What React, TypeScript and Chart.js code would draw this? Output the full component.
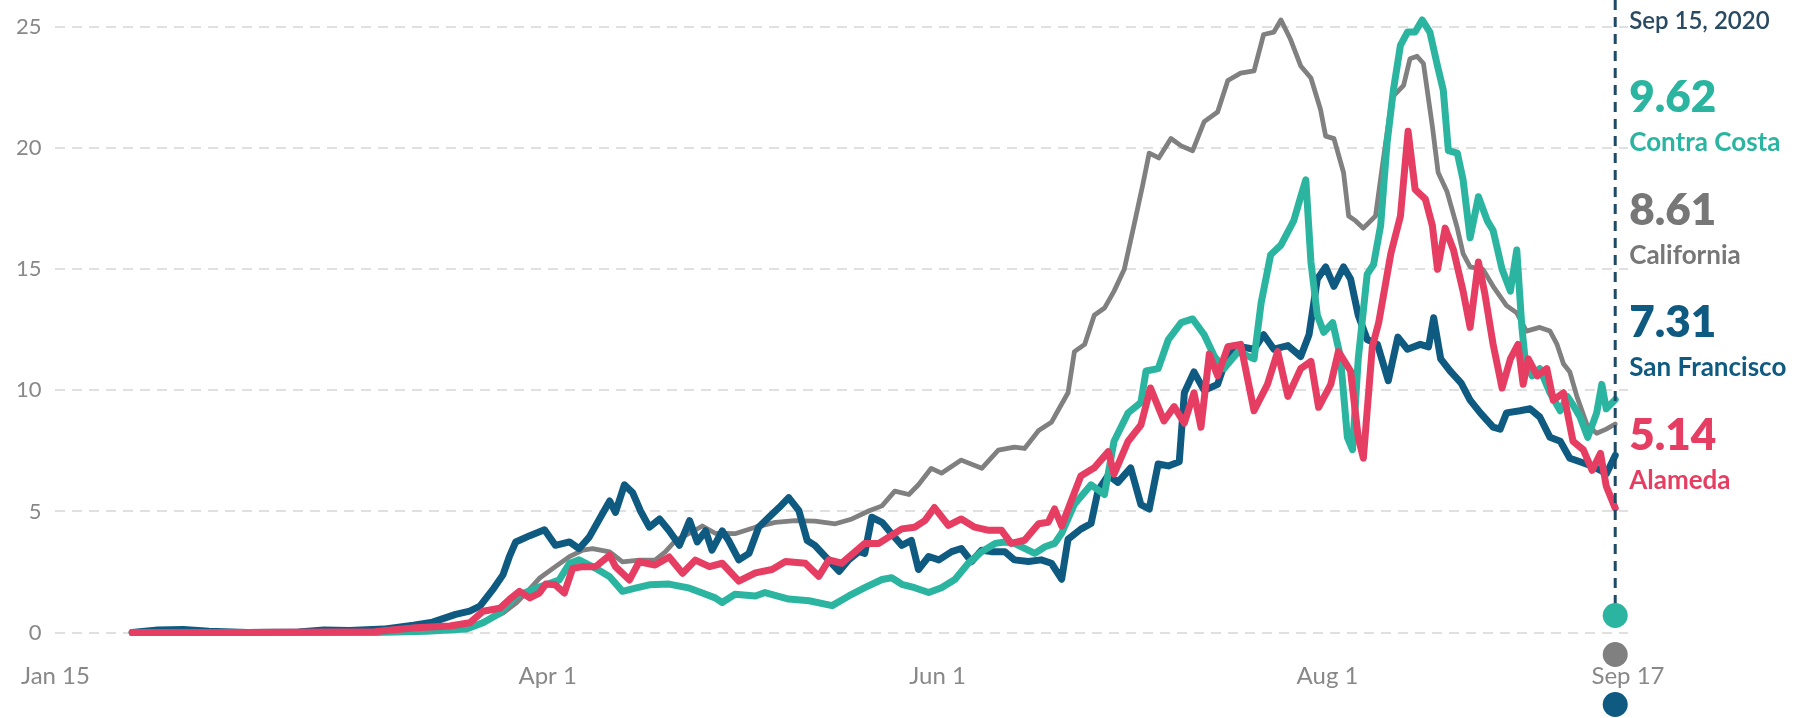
import React, { useEffect, useRef } from "react";
import { Chart, registerables } from "chart.js";

Chart.register(...registerables);

// x values are days since Jan 15, 2020
const tickDays = [0, 77, 138, 199, 246];
const tickLabels = ["Jan 15", "Apr 1", "Jun 1", "Aug 1", "Sep 17"];
const yTickValues = [0, 5, 10, 15, 20, 25];
const highlightDay = 244;
const highlightLabel = "Sep 15, 2020";

const seriesNames = ["Alameda", "Contra Costa", "San Francisco", "California"];
const seriesColors = ["#e63e62", "#2bb5a0", "#0e5a80", "#808080"];
const seriesWidths = [7, 7, 7, 4.8];

const alameda: [number, number][] = [
  [12, 0], [30, 0], [50, 0.03], [51.3, 0.07], [56.4, 0.2], [61.7, 0.27], [64.8, 0.4], [66.9, 0.88], [69.5, 1.0],
  [71, 1.36], [72.6, 1.7], [74.2, 1.43], [75.7, 1.63], [76.7, 2.0], [78.2, 1.97], [79.6, 1.63], [80.9, 2.65],
  [82.5, 2.72], [84.5, 2.72], [86.7, 3.19], [87.6, 2.72], [89.8, 2.17], [91.3, 2.92], [93.8, 2.79], [96, 3.12],
  [98.1, 2.45], [100.1, 2.99], [102.3, 2.72], [104.3, 2.86], [106.9, 2.12], [109.5, 2.46], [112.1, 2.6],
  [114.2, 2.93], [117.3, 2.86], [119.4, 2.32], [121, 3.0], [123, 2.86], [125.1, 3.34], [126.6, 3.68],
  [128.8, 3.68], [130.4, 3.95], [132.4, 4.28], [134.4, 4.35], [136, 4.62], [137.5, 5.16], [139.7, 4.42],
  [141.7, 4.69], [143.8, 4.35], [146, 4.22], [148, 4.22], [149.5, 3.68], [151.6, 3.81], [153.8, 4.49],
  [155.3, 4.55], [156.3, 5.1], [157.4, 4.4], [159, 5.5], [160.4, 6.46], [162.5, 6.8], [164.7, 7.47],
  [165.6, 6.54], [167.8, 7.9], [169.8, 8.57], [171.3, 10.1], [173.4, 8.74], [175, 9.33], [176.6, 8.65],
  [178.1, 9.9], [179.2, 8.48], [180.5, 11.5], [181.8, 10.6], [183.4, 11.8], [185.4, 11.9], [187.5, 9.16],
  [189.6, 10.25], [191.2, 11.6], [192.8, 9.75], [194.8, 10.9], [196.4, 11.2], [197.6, 9.3], [199.5, 10.25],
  [200.7, 11.6], [202.6, 10.8], [203.8, 8.06], [204.6, 7.2], [206, 11.8], [207, 12.8], [208.9, 15.65],
  [210.4, 17.2], [211.6, 20.7], [212.7, 18.3], [214.3, 17.9], [215.4, 16.8], [216.2, 15.0], [217.4, 16.7],
  [218.7, 15.8], [220.2, 14.1], [221.3, 12.6], [222.6, 15.3], [223.6, 14.0], [224.9, 11.9], [226.3, 10.1],
  [227.6, 11.3], [228.8, 11.9], [229.6, 10.25], [230.4, 11.3], [231.8, 10.6], [233.3, 10.9], [234.3, 9.6],
  [235.9, 9.9], [237.4, 7.9], [239, 7.55], [240.4, 6.7], [241.7, 7.4], [242.6, 6.04], [244, 5.14],
];

const contraCosta: [number, number][] = [
  [12, 0], [30, 0], [50, 0], [58, 0.05], [64.2, 0.14], [66.9, 0.4], [69.5, 0.8], [72, 1.5], [74.6, 1.77],
  [78.8, 2.17], [80.4, 2.85], [81.9, 3.0], [84.5, 2.65], [86.7, 2.3], [88.7, 1.7], [90.7, 1.83], [92.9, 1.97],
  [96, 2.0], [99.2, 1.83], [101.2, 1.63], [103.2, 1.43], [104.3, 1.24], [106.3, 1.58], [109.5, 1.51],
  [111, 1.65], [114.7, 1.38], [117.9, 1.31], [121.5, 1.11], [124.1, 1.51], [126.6, 1.85], [129.3, 2.19],
  [130.8, 2.26], [132.4, 1.99], [134.4, 1.85], [136.6, 1.65], [138.6, 1.85], [140.7, 2.19], [142.8, 2.86],
  [144.9, 3.34], [147, 3.68], [148.5, 3.74], [150, 3.68], [151.6, 3.47], [153.2, 3.27], [154.8, 3.54],
  [156.3, 3.68], [157.4, 4.1], [159.4, 5.3], [162, 6.1], [164.1, 5.7], [165.6, 7.9], [167.8, 9.07],
  [169.8, 9.5], [170.6, 10.8], [172.5, 10.9], [174.1, 12.1], [176.1, 12.8], [177.9, 12.95], [179.7, 12.3],
  [181.3, 11.4], [182.8, 10.9], [185, 11.6], [187.5, 11.3], [188.6, 13.6], [190.1, 15.6], [191.7, 16.0],
  [193.7, 17.0], [194.8, 18.0], [195.6, 18.7], [196.4, 15.3], [197.4, 13.1], [198.4, 12.4], [199.8, 12.8],
  [201, 11.4], [202.1, 8.06], [202.9, 7.55], [203.8, 11.3], [205.2, 14.8], [206.2, 15.2], [207.3, 16.8],
  [208.3, 20.2], [209.3, 22.4], [210.4, 24.25], [211.5, 24.8], [212.7, 24.8], [213.8, 25.3], [215, 24.8],
  [216.2, 23.4], [217.1, 22.4], [217.9, 19.9], [219.3, 19.8], [220.2, 18.7], [221.3, 16.3], [222.6, 18.0],
  [224, 17.0], [224.9, 16.6], [226.3, 15.0], [227.6, 14.1], [228.6, 15.8], [229.4, 12.6], [229.9, 11.3],
  [231, 10.6], [232.2, 10.9], [233.8, 9.9], [235.4, 9.16], [236.5, 9.75], [237.4, 9.4], [238.5, 8.9],
  [239.7, 8.06], [241.1, 9.07], [241.9, 10.25], [242.6, 9.24], [244, 9.62],
];

const sanFrancisco: [number, number][] = [
  [12, 0], [16, 0.1], [20, 0.12], [24, 0.05], [30, 0], [38, 0.02], [42, 0.1], [46, 0.08], [51.3, 0.14],
  [56, 0.3], [59, 0.43], [62.6, 0.75], [64.8, 0.88], [66.4, 1.09], [68.4, 1.77], [70, 2.38], [71, 3.13],
  [72, 3.74], [74.2, 4.0], [76.5, 4.24], [78.2, 3.6], [80.4, 3.74], [81.9, 3.46], [83.5, 3.94], [85.1, 4.69],
  [86.7, 5.43], [87.6, 4.96], [89, 6.1], [90.3, 5.77], [91.5, 5.03], [92.9, 4.35], [94.5, 4.69], [96, 4.2],
  [97.6, 3.6], [99.2, 4.62], [100.4, 3.74], [101.7, 4.2], [102.7, 3.4], [104.3, 4.2], [105.3, 3.8],
  [106.9, 3.0], [108.5, 3.27], [110, 4.35], [111.6, 4.76], [113.2, 5.16], [114.7, 5.57], [116.3, 5.03],
  [117.6, 3.8], [118.8, 3.6], [120.4, 3.14], [122.6, 2.53], [124.1, 3.0], [125.7, 3.34], [126.6, 3.27],
  [127.7, 4.76], [129.3, 4.55], [130.8, 4.08], [132.4, 3.6], [133.9, 3.8], [135, 2.6], [136.6, 3.14],
  [138.2, 3.0], [140.2, 3.34], [141.7, 3.47], [143.3, 2.93], [144.9, 3.4], [146.4, 3.34], [148.5, 3.34],
  [150, 3.0], [152.2, 2.93], [154.2, 3.0], [155.8, 2.86], [157.4, 2.2], [158.4, 3.85], [160.4, 4.27],
  [162, 4.5], [163.1, 5.87], [164.7, 6.5], [166.2, 6.2], [168.2, 6.8], [169.8, 5.28], [171.1, 5.1],
  [172.5, 6.96], [174.1, 6.88], [175.8, 7.05], [176.6, 9.9], [178.1, 10.76], [179.7, 10.0], [181.8, 10.25],
  [183.4, 11.5], [185.4, 11.8], [187.5, 11.7], [189, 12.3], [190.6, 11.7], [192.8, 11.85], [194.8, 11.4],
  [196.1, 12.3], [197.4, 14.6], [198.7, 15.1], [200, 14.3], [201.5, 15.1], [202.6, 14.6], [203.8, 13.1],
  [205.2, 12.1], [206.8, 11.9], [208.5, 10.4], [210, 12.2], [211.5, 11.7], [213.5, 11.9], [214.8, 11.8],
  [215.6, 13.0], [216.7, 11.3], [218.3, 10.76], [219.9, 10.3], [221.3, 9.6], [222.9, 9.07], [224.9, 8.48],
  [226, 8.4], [227, 9.07], [229.1, 9.16], [230.7, 9.24], [232.2, 8.9], [233.8, 8.06], [235.4, 7.9],
  [236.9, 7.2], [238.5, 7.05], [240.1, 6.9], [241.7, 6.7], [242.6, 6.55], [244, 7.31],
];

const california: [number, number][] = [
  [12, 0], [20, 0.03], [30, 0.03], [40, 0.04], [48, 0.08], [52, 0.15], [60, 0.2], [66, 0.35], [70, 0.8],
  [72, 1.2], [73.6, 1.63], [75.7, 2.24], [78.2, 2.72], [80.4, 3.13], [82.5, 3.4], [84, 3.46], [86.7, 3.33],
  [88.7, 2.92], [91.3, 2.99], [93.8, 2.99], [95.4, 3.33], [97, 3.8], [99.2, 4.1], [101.2, 4.4], [103.2, 4.1],
  [106.3, 4.08], [109.5, 4.35], [112.6, 4.55], [115.7, 4.62], [118.8, 4.6], [122, 4.49], [124.6, 4.69],
  [127.3, 5.03], [129.3, 5.23], [131.3, 5.84], [133.5, 5.7], [135, 6.1], [137, 6.78], [138.6, 6.58],
  [141.7, 7.12], [144.9, 6.78], [147.5, 7.53], [150, 7.66], [151.6, 7.6], [153.8, 8.34], [155.8, 8.68],
  [156.9, 9.2], [158.4, 9.9], [159.4, 11.6], [161, 11.9], [162.5, 13.1], [164.1, 13.4], [165.6, 14.1],
  [167.2, 15.0], [168.7, 16.8], [170.1, 18.5], [171.1, 19.8], [172.6, 19.6], [174.5, 20.4], [176.1, 20.1],
  [177.9, 19.9], [179.7, 21.1], [181.8, 21.5], [183.4, 22.8], [185.4, 23.1], [187.5, 23.2], [189, 24.7],
  [190.6, 24.8], [191.7, 25.3], [193.2, 24.5], [194.8, 23.4], [196.4, 22.9], [197.9, 21.6], [198.7, 20.5],
  [200, 20.4], [201.5, 19.0], [202.3, 17.2], [203.4, 17.0], [204.6, 16.7], [206.5, 17.2], [207.7, 19.5],
  [209.1, 22.1], [210.9, 22.6], [211.9, 23.7], [213, 23.8], [214, 23.5], [215.4, 20.9], [216.3, 19.0],
  [217.7, 18.2], [219.3, 16.7], [220.2, 15.65], [221.3, 15.1], [223.3, 15.0], [224.9, 14.3], [227, 13.5],
  [228.6, 13.2], [230.1, 12.45], [232.2, 12.6], [233.8, 12.45], [234.9, 11.9], [235.9, 11.1], [236.9, 10.76],
  [238, 9.75], [239.6, 8.57], [241.1, 8.23], [242.6, 8.4], [244, 8.61],
];

const seriesData = [alameda, contraCosta, sanFrancisco, california];
const markerOffsets = [-17, 22, 72];

const FONT = "Lato, 'Noto Sans', sans-serif";

const overlayPlugin = {
  id: "overlay",
  afterDraw(chart: any) {
    const { ctx, chartArea } = chart;
    const xs = chart.scales.x;
    const x = xs.getPixelForValue(highlightDay);
    const order = seriesData
      .map((d, i) => ({ i, last: d[d.length - 1][1] }))
      .sort((a, b) => b.last - a.last);

    ctx.save();
    // vertical dashed rule
    ctx.setLineDash([10, 7]);
    ctx.lineWidth = 3;
    ctx.strokeStyle = "#1f4a66";
    ctx.beginPath();
    ctx.moveTo(x, 0);
    ctx.lineTo(x, chartArea.bottom + markerOffsets[0] - 10);
    ctx.stroke();
    ctx.setLineDash([]);

    // markers
    order.slice(0, markerOffsets.length).forEach((o, k) => {
      ctx.beginPath();
      ctx.fillStyle = seriesColors[o.i];
      ctx.arc(x, chartArea.bottom + markerOffsets[k], 12.5, 0, Math.PI * 2);
      ctx.fill();
    });

    // labels
    const lx = x + 14;
    ctx.textAlign = "left";
    ctx.textBaseline = "middle";
    ctx.fillStyle = "#2a4a63";
    ctx.font = `600 24px ${FONT}`;
    ctx.fillText(highlightLabel, lx, 21);
    order.forEach((o, k) => {
      const vy = 98 + k * 112.5;
      const color = o.i === 3 ? "#777777" : seriesColors[o.i];
      ctx.fillStyle = color;
      ctx.font = `800 44px ${FONT}`;
      ctx.fillText(o.last.toFixed(2), lx, vy);
      ctx.font = `700 26px ${FONT}`;
      ctx.fillText(seriesNames[o.i], lx, vy + 45);
    });
    ctx.restore();
  },
};

export default function App() {
  const ref = useRef<HTMLCanvasElement | null>(null);

  useEffect(() => {
    document.body.style.margin = "0";
    if (!ref.current) return;
    const chart = new Chart(ref.current, {
      type: "line",
      data: {
        datasets: seriesData.map((d, i) => ({
          label: seriesNames[i],
          data: d.map(([x, y]) => ({ x, y })),
          borderColor: seriesColors[i],
          borderWidth: seriesWidths[i],
          pointRadius: 0,
          tension: 0,
          fill: false,
          clip: false as any,
          borderJoinStyle: "round" as const,
          borderCapStyle: "round" as const,
        })),
      },
      options: {
        animation: false,
        responsive: false,
        events: [],
        layout: { padding: { left: 0, right: 182, top: 21, bottom: 0 } },
        plugins: { legend: { display: false }, tooltip: { enabled: false } },
        scales: {
          x: {
            type: "linear",
            min: 0,
            max: 246,
            grid: { display: false },
            border: { display: false },
            afterFit: (s: any) => {
              s.height = 85.5;
            },
            afterBuildTicks: (s: any) => {
              s.ticks = tickDays.map((v) => ({ value: v }));
            },
            ticks: {
              autoSkip: false,
              maxRotation: 0,
              padding: 21,
              color: "#888888",
              font: { family: FONT, size: 24 },
              callback: (v: any) => {
                const idx = tickDays.indexOf(Number(v));
                return idx >= 0 ? tickLabels[idx] : "";
              },
            },
          },
          y: {
            min: 0,
            max: 25,
            afterFit: (s: any) => {
              s.width = 51.4;
            },
            afterBuildTicks: (s: any) => {
              s.ticks = yTickValues.map((v) => ({ value: v }));
            },
            grid: { color: "#e0e0e0", lineWidth: 2, drawTicks: false },
            border: { display: false, dash: [10, 7] },
            ticks: {
              padding: 14,
              color: "#888888",
              font: { family: FONT, size: 22 },
            },
          },
        },
      },
      plugins: [overlayPlugin],
    });
    return () => chart.destroy();
  }, []);

  return (
    <div style={{ width: 1810, height: 718, position: "relative", background: "#ffffff" }}>
      <canvas ref={ref} width={1810} height={718} style={{ width: 1810, height: 718, display: "block" }} />
    </div>
  );
}
